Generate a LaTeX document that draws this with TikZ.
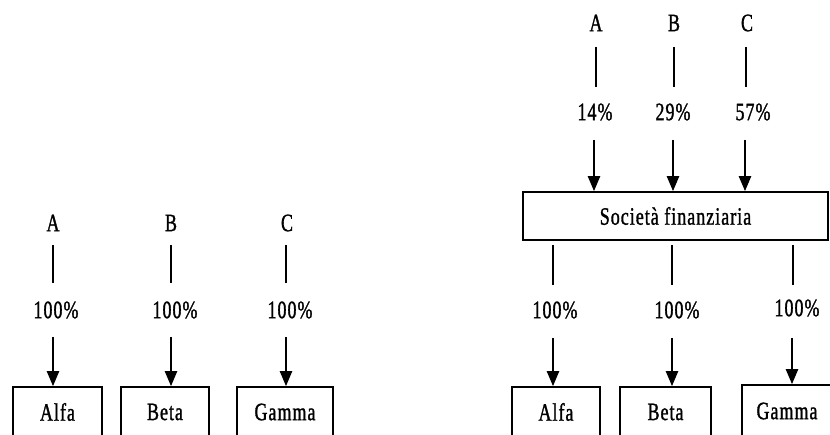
\documentclass[tikz,border=0pt]{standalone}
\usepackage{fontspec}
\setmainfont{Liberation Serif}[FakeStretch=0.72,LetterSpace=4,FakeBold=1.2]
\usetikzlibrary{arrows.meta}
\begin{document}
\begin{tikzpicture}[x=1pt,y=-1pt,
  lbl/.style={inner sep=0pt, font=\fontsize{25}{28}\selectfont},
  box/.style={draw, line width=1.6pt, inner sep=0pt, font=\fontsize{25}{28}\selectfont},
  ln/.style={line width=2.2pt},
  arr/.style={line width=2.2pt, -{Triangle[width=12pt,length=15pt]}}]
\clip (0,0) rectangle (830,435);
\fill[white] (0,0) rectangle (830,435);

% ---------- left diagram ----------
\node[lbl] (lA) at (53,223) {A};
\node[lbl] (lB) at (171,223) {B};
\node[lbl] (lC) at (287,223) {C};
\node[lbl] (lpA) at (56,310) {100\%};
\node[lbl] (lpB) at (175,310) {100\%};
\node[lbl] (lpC) at (290,310) {100\%};
\node[box, minimum width=89pt, minimum height=50pt] (lalfa) at (57.5,412) {Alfa};
\node[box, minimum width=88pt, minimum height=50pt] (lbeta) at (165,412) {Beta};
\node[box, minimum width=96pt, minimum height=50pt] (lgamma) at (285,412) {Gamma};

\draw[ln] (53,245) coordinate (la1) -- (53,283) coordinate (la2);
\draw[ln] (171,245) coordinate (lb1) -- (171,283) coordinate (lb2);
\draw[ln] (286,245) coordinate (lc1) -- (286,283) coordinate (lc2);
\draw[arr] (53,337) coordinate (la3) -- (la3 |- lalfa.north);
\draw[arr] (171,337) coordinate (lb3) -- (lb3 |- lbeta.north);
\draw[arr] (286,337) coordinate (lc3) -- (lc3 |- lgamma.north);

% ---------- right diagram ----------
\node[lbl] (rA) at (596,23) {A};
\node[lbl] (rB) at (674,23) {B};
\node[lbl] (rC) at (747,23) {C};
\node[lbl] (rpA) at (595,112) {14\%};
\node[lbl] (rpB) at (673,112) {29\%};
\node[lbl] (rpC) at (753,112) {57\%};
\node[box, minimum width=305pt, minimum height=48pt] (soc) at (675.5,216) {Società finanziaria};

\draw[ln] (596,47) coordinate (ra1) -- (596,87) coordinate (ra2);
\draw[ln] (674,47) coordinate (rb1) -- (674,87) coordinate (rb2);
\draw[ln] (746,47) coordinate (rc1) -- (746,87) coordinate (rc2);
\draw[arr] (594,140) coordinate (ra3) -- (ra3 |- soc.north);
\draw[arr] (673,140) coordinate (rb3) -- (rb3 |- soc.north);
\draw[arr] (745,140) coordinate (rc3) -- (rc3 |- soc.north);

\node[lbl] (rqA) at (555,310) {100\%};
\node[lbl] (rqB) at (677,310) {100\%};
\node[lbl] (rqC) at (797,308) {100\%};
\node[box, minimum width=88pt, minimum height=50pt] (ralfa) at (556,412) {Alfa};
\node[box, minimum width=91pt, minimum height=50pt] (rbeta) at (665.5,412) {Beta};
\node[box, minimum width=90pt, minimum height=52pt] (rgamma) at (787,411) {Gamma};

\draw[ln] (553,245) coordinate (rd1) -- (553,285) coordinate (rd2);
\draw[ln] (672,245) coordinate (re1) -- (672,285) coordinate (re2);
\draw[ln] (793,245) coordinate (rf1) -- (793,285) coordinate (rf2);
\draw[arr] (553,338) coordinate (rd3) -- (rd3 |- ralfa.north);
\draw[arr] (672,338) coordinate (re3) -- (re3 |- rbeta.north);
\draw[arr] (792,338) coordinate (rf3) -- (rf3 |- rgamma.north);
\end{tikzpicture}
\end{document}
